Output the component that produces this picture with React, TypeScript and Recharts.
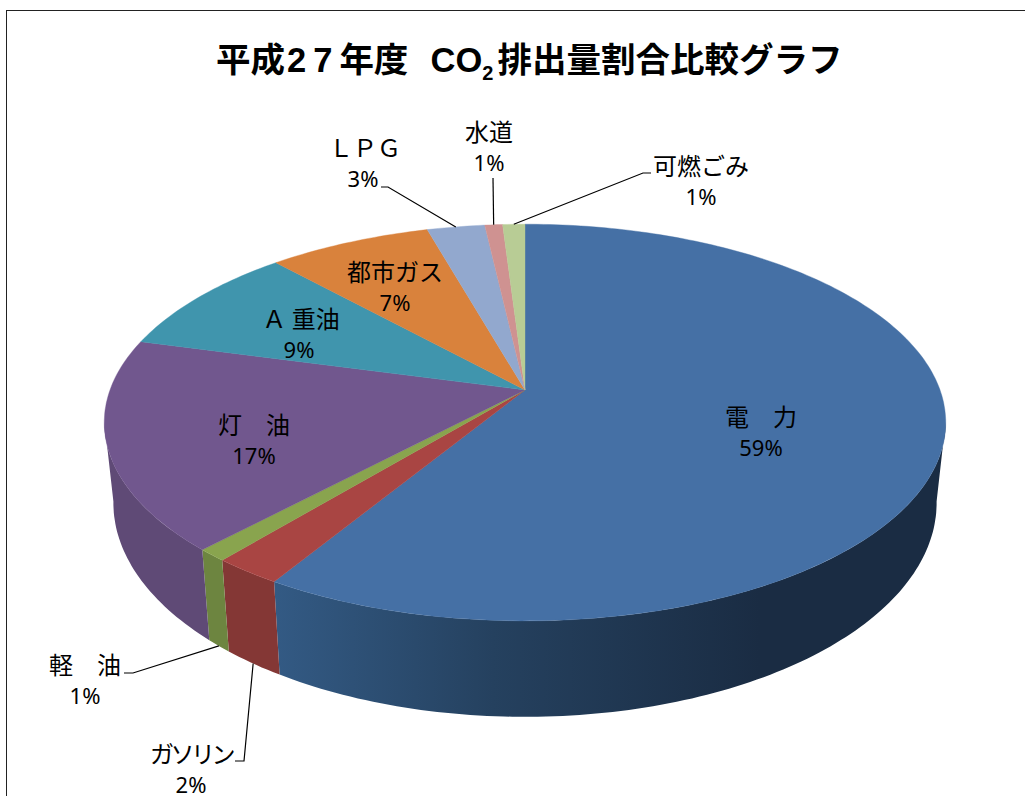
import React from 'react';
import { PieChart, Pie, Cell } from 'recharts';

const categories = ['電　力', 'ガソリン', '軽　油', '灯　油', 'Ａ 重油', '都市ガス', 'ＬＰＧ', '水道', '可燃ごみ'];
const shares = [58.7, 2.3, 1.0, 17.2, 9.05, 7.35, 2.6, 0.8, 1.0];

const topColors = ['#4570a5', '#a94543', '#89a44e', '#71578e', '#4095ad', '#d9823c', '#92a8ce', '#cf9291', '#b8cc95'];
const wallColors = ['url(#wallBlue)', '#843735', '#6d8540', '#5f4a76', '#35788c', '#b06a30', '#7688a8', '#a87675', '#94a578'];

// label centres, and the elbow of the leader line where there is one
const labelSpots: { x: number; y: number; pctX?: number; squeeze?: number; elbow?: number[][]; fromWall?: boolean }[] = [
  { x: 761, y: 415 },
  { x: 191, y: 752, squeeze: -3.5, elbow: [[235, 761], [244, 761]], fromWall: true },
  { x: 85, y: 663, elbow: [[124, 673], [133, 673]], fromWall: true },
  { x: 254, y: 423 },
  { x: 301, y: 317, pctX: 299 },
  { x: 395, y: 270 },
  { x: 365, y: 146, pctX: 363, elbow: [[381, 187], [388, 187]] },
  { x: 489, y: 130, elbow: [[493, 178]] },
  { x: 701, y: 164, elbow: [[651, 173], [643, 173]] },
];

const tableData = categories.map((name, i) => ({ name, value: shares[i] }));

// perspective of the disc, fitted to the picture
const TILT = 0.164;
const TOP = { y0: 390, kx: 415, ky: 193 };
const BOTTOM = { y0: 468, kx: 406, ky: 208 };

const project = (deg: number, cx: number, plane: typeof TOP) => {
  const t = ((90 - deg) * Math.PI) / 180;
  const u = Math.sin(t);
  const v = -Math.cos(t);
  const w = 1 - TILT * v;
  return [cx + (plane.kx * u) / w, plane.y0 + (plane.ky * v) / w];
};

const arcPoints = (from: number, to: number, cx: number, plane: typeof TOP) => {
  const n = Math.max(2, Math.ceil(Math.abs(to - from)));
  const pts: number[][] = [];
  for (let i = 0; i <= n; i++) pts.push(project(from + ((to - from) * i) / n, cx, plane));
  return pts;
};

const toPath = (pts: number[][]) => 'M' + pts.map((p) => `${p[0].toFixed(1)},${p[1].toFixed(1)}`).join('L') + 'Z';

const DiscSlice = (props: any) => {
  const { cx, cy, startAngle, endAngle, index, fill } = props;
  // clockwise from the top, in the library's angles; wall only shows on the front
  const wallFrom = Math.min(startAngle, -9);
  const wallTo = Math.max(endAngle, -171);
  const hasWall = wallFrom > wallTo;
  const topPts = [[cx, cy], ...arcPoints(startAngle, endAngle, cx, TOP)];
  return (
    <g>
      {index === 0 && (
        <defs>
          <linearGradient id="wallBlue" gradientUnits="userSpaceOnUse" x1="275" y1="0" x2="760" y2="0">
            <stop offset="0%" stopColor="#335a84" />
            <stop offset="45%" stopColor="#25415f" />
            <stop offset="100%" stopColor="#1a2c43" />
          </linearGradient>
        </defs>
      )}
      {hasWall && (
        <path
          d={toPath([...arcPoints(wallFrom, wallTo, cx, TOP), ...arcPoints(wallTo, wallFrom, cx, BOTTOM)])}
          fill={wallColors[index]}
        />
      )}
      <path d={toPath(topPts)} fill={fill} stroke={fill} strokeWidth={0.4} />
    </g>
  );
};

const SliceLabel = (props: any) => {
  const { index, cx, midAngle, percent } = props;
  const spot = labelSpots[index];
  const pctX = spot.pctX ?? spot.x;
  let line = null;
  if (spot.elbow) {
    const anchor = project(midAngle, cx, spot.fromWall ? BOTTOM : TOP);
    const pts = [...spot.elbow, anchor].map((p) => p.join(',')).join(' ');
    line = <polyline points={pts} fill="none" stroke="#000" strokeWidth={1.2} />;
  }
  return (
    <g>
      {line}
      <text
        x={spot.x}
        y={spot.y}
        textAnchor="middle"
        dominantBaseline="central"
        fontFamily="'Noto Sans CJK JP', sans-serif"
        fontSize={24}
        letterSpacing={spot.squeeze ?? 0}
        fill="#000"
      >
        {categories[index]}
      </text>
      <text
        x={pctX}
        y={spot.y + 31.5}
        textAnchor="middle"
        dominantBaseline="central"
        fontFamily="'Noto Sans', sans-serif"
        fontSize={22}
        fill="#000"
      >
        {Math.round(percent * 100)}%
      </text>
    </g>
  );
};

export default function App() {
  return (
    <div style={{ position: 'absolute', left: 0, top: 0, width: 1025, height: 796, overflow: 'hidden', background: '#fff' }}>
      <div
        style={{
          position: 'absolute',
          left: 6,
          top: 10,
          width: 1040,
          height: 800,
          border: '1.5px solid #222',
          boxSizing: 'border-box',
        }}
      />
      <div
        style={{
          position: 'absolute',
          left: 216,
          top: 36,
          whiteSpace: 'nowrap',
          fontFamily: "'Liberation Sans', 'Noto Sans CJK JP', sans-serif",
          fontWeight: 700,
          fontSize: 34.5,
          lineHeight: '48px',
          color: '#000',
        }}
      >
        平成<span style={{ letterSpacing: 7, marginLeft: 2 }}>27</span>年度&nbsp;&nbsp;<span style={{ marginLeft: 3 }}>CO</span>
        <sub style={{ fontSize: 20, lineHeight: 0, marginRight: 4 }}>2</sub>排出量割合比較グラフ
      </div>
      <div style={{ position: 'absolute', left: 0, top: 0 }}>
        <PieChart width={1025} height={796} margin={{ top: 0, right: 0, bottom: 0, left: 0 }}>
          <Pie
            data={tableData}
            dataKey="value"
            nameKey="name"
            cx={525}
            cy={390}
            outerRadius={415}
            startAngle={90}
            endAngle={-270}
            paddingAngle={0}
            stroke="none"
            isAnimationActive={false}
            shape={DiscSlice}
            label={SliceLabel}
            labelLine={false}
          >
            {tableData.map((d, i) => (
              <Cell key={d.name} fill={topColors[i]} />
            ))}
          </Pie>
        </PieChart>
      </div>
    </div>
  );
}
